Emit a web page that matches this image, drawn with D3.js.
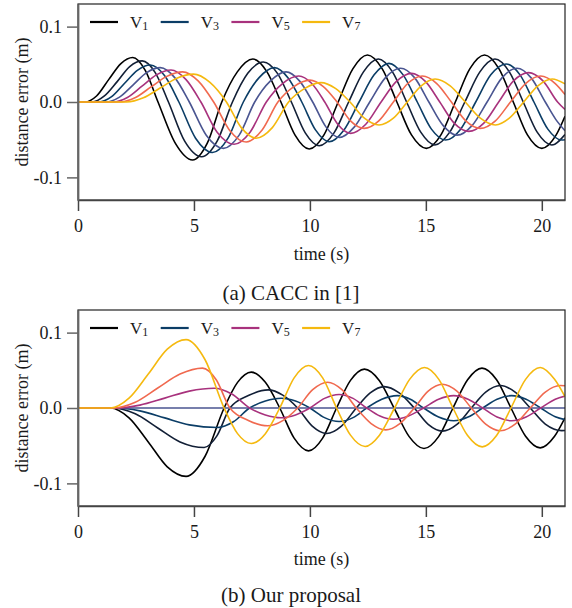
<!DOCTYPE html>
<html><head><meta charset="utf-8">
<script src="https://cdn.jsdelivr.net/npm/d3@7"></script>
<style>
body{margin:0;background:#fff}
svg{display:block}
text{font-family:"Liberation Serif","Times New Roman",serif;fill:#1a1a1a}
</style>
</head><body>
<svg id="c" width="572" height="608"></svg>
<script>
// ---------- data ----------
const seriesNames = ["V1","V2","V3","V4","V5","V6","V7"];
const legendSeries = ["V1","V3","V5","V7"];
const seriesColors = ["#000000","#121f36","#0b3d66","#4a5591","#a8327d","#f0694f","#f5b90f"];
const xTickValues = [0,5,10,15,20];
const yTickValues = [-0.1,0,0.1];
const yTickLabels = ["-0.1","0.0","0.1"];
const captions = ["(a) CACC in [1]","(b) Our proposal"];
const xLabel = "time (s)";
const yLabel = "distance error (m)";

// (a) CACC in [1] : [time, error]
const caccV1 = [[0,0],[0.3,0],[0.8,0.008],[1.33,0.03],[1.85,0.051],[2.36,0.059],[2.9,0.042],[3.45,0],[4.2,-0.055],[4.94,-0.077],[5.57,-0.055],[6.2,0],[6.87,0.04],[7.54,0.057],[8.15,0.04],[8.75,0],[9.36,-0.044],[9.97,-0.0624],[10.6,-0.044],[11.22,0],[11.85,0.044],[12.48,0.0624],[13.12,0.044],[13.75,0],[14.38,-0.0437],[15.02,-0.0615],[15.65,-0.0437],[16.27,0],[16.9,0.0443],[17.53,0.0624],[18.15,0.0443],[18.77,0],[19.38,-0.0437],[20.0,-0.0615],[20.62,-0.0437],[21,-0.019]];
const caccV2 = [[0,0],[0.6,0],[1.14,0.008],[1.69,0.027],[2.23,0.047],[2.77,0.0545],[3.33,0.039],[3.9,0],[4.6,-0.052],[5.33,-0.0726],[6.0,-0.052],[6.66,0],[7.32,0.038],[7.99,0.053],[8.6,0.038],[9.2,0],[9.8,-0.041],[10.4,-0.058],[11.04,-0.041],[11.67,0],[12.31,0.04],[12.95,0.057],[13.56,0.04],[14.17,0],[14.78,-0.04],[15.39,-0.057],[16.03,-0.04],[16.68,0],[17.33,0.04],[17.98,0.057],[18.6,0.04],[19.2,0],[19.8,-0.04],[20.43,-0.057],[21,-0.043]];
const caccV3 = [[0,0],[0.9,0],[1.45,0.007],[2.0,0.0245],[2.56,0.042],[3.12,0.049],[3.73,0.035],[4.35,0],[5.07,-0.048],[5.8,-0.067],[6.47,-0.048],[7.13,0],[7.8,0.032],[8.47,0.0456],[9.06,0.032],[9.65,0],[10.24,-0.037],[10.83,-0.0527],[11.47,-0.037],[12.12,0],[12.77,0.036],[13.41,0.0513],[14.02,0.036],[14.63,0],[15.24,-0.036],[15.85,-0.0505],[16.5,-0.036],[17.15,0],[17.8,0.036],[18.46,0.0505],[19.06,0.036],[19.66,0],[20.26,-0.036],[20.86,-0.0505],[21,-0.05]];
const caccV4 = [[0,0],[1.2,0],[1.79,0.0065],[2.38,0.0228],[2.96,0.039],[3.55,0.0456],[4.18,0.032],[4.8,0],[5.53,-0.044],[6.27,-0.0615],[6.95,-0.044],[7.62,0],[8.3,0.028],[8.97,0.04],[9.55,0.028],[10.12,0],[10.69,-0.033],[11.26,-0.047],[11.92,-0.033],[12.58,0],[13.25,0.032],[13.91,0.0447],[14.52,0.032],[15.13,0],[15.74,-0.031],[16.35,-0.044],[17.0,-0.031],[17.64,0],[18.28,0.032],[18.93,0.0447],[19.54,0.032],[20.15,0],[20.6,-0.023],[21,-0.038]];
const caccV5 = [[0,0],[1.5,0],[2.13,0.006],[2.76,0.021],[3.38,0.036],[4.01,0.0425],[4.65,0.03],[5.3,0],[6.0,-0.04],[6.73,-0.056],[7.42,-0.04],[8.12,0],[8.82,0.0245],[9.52,0.0345],[10.08,0.0245],[10.64,0],[11.2,-0.0295],[11.76,-0.0416],[12.41,-0.0295],[13.07,0],[13.72,0.027],[14.38,0.038],[14.99,0.027],[15.6,0],[16.22,-0.028],[16.85,-0.039],[17.5,-0.028],[18.14,0],[18.78,0.028],[19.43,0.039],[20.05,0.028],[20.68,0],[21,-0.01]];
const caccV6 = [[0,0],[1.8,0],[2.48,0.006],[3.15,0.02],[3.83,0.034],[4.51,0.04],[5.18,0.028],[5.85,0],[6.55,-0.038],[7.25,-0.053],[7.94,-0.037],[8.62,0],[9.31,0.0205],[10.0,0.029],[10.58,0.0205],[11.17,0],[11.75,-0.025],[12.34,-0.035],[12.97,-0.025],[13.6,0],[14.22,0.0245],[14.85,0.0345],[15.47,0.0245],[16.1,0],[16.72,-0.025],[17.35,-0.035],[18.0,-0.025],[18.65,0],[19.3,0.0245],[19.95,0.0345],[20.58,0.0245],[21,0.01]];
const caccV7 = [[0,0],[2.1,0],[2.82,0.0055],[3.54,0.0185],[4.26,0.0315],[4.98,0.037],[5.69,0.026],[6.4,0],[7.04,-0.034],[7.68,-0.048],[8.38,-0.034],[9.08,0],[9.78,0.018],[10.48,0.0257],[11.1,0.018],[11.73,0],[12.35,-0.0215],[12.98,-0.0305],[13.6,-0.0215],[14.2,0],[14.8,0.0215],[15.4,0.0305],[16.05,0.0215],[16.7,0],[17.35,-0.0215],[18.0,-0.0305],[18.6,-0.0215],[19.22,0],[19.83,0.0215],[20.45,0.0305],[21,0.024]];

// (b) Our proposal : [time, error]
const oursV1 = [[0,0],[1.4,0],[2.2,-0.013],[3.03,-0.045],[3.85,-0.078],[4.66,-0.0907],[5.48,-0.064],[6.3,0],[6.88,0.034],[7.47,0.0476],[8.08,0.034],[8.7,0],[9.32,-0.04],[9.94,-0.0569],[10.55,-0.04],[11.15,0],[11.75,0.0366],[12.35,0.0516],[12.99,0.0366],[13.63,0],[14.28,-0.038],[14.92,-0.0538],[15.55,-0.038],[16.17,0],[16.8,0.0375],[17.42,0.0529],[18.05,0.0375],[18.67,0],[19.3,-0.0375],[19.93,-0.0529],[20.55,-0.0375],[21,-0.013]];
const oursV2 = [[0,0],[1.5,0],[2.47,-0.0077],[3.44,-0.0265],[4.4,-0.045],[5.44,-0.0524],[5.99,-0.037],[6.55,0],[7.37,0.0168],[8.2,0.024],[8.83,0.017],[9.47,0],[10.1,-0.024],[10.72,-0.0338],[11.36,-0.024],[12.0,0],[12.6,0.02],[13.2,0.0284],[13.85,0.02],[14.5,0],[15.1,-0.0218],[15.71,-0.0307],[16.34,-0.0218],[16.96,0],[17.58,0.021],[18.21,0.0298],[18.85,0.021],[19.5,0],[20.15,-0.0213],[20.86,-0.03],[21,-0.0298]];
const oursV3 = [[0,0],[1.6,0],[2.67,-0.0038],[3.74,-0.0131],[4.8,-0.0224],[6.02,-0.0258],[6.7,-0.0183],[7.4,0],[8.08,0.0092],[8.76,0.0129],[9.38,0.0092],[10.0,0],[10.63,-0.0128],[11.26,-0.018],[11.86,-0.0128],[12.45,0],[13.1,0.0116],[13.77,0.0164],[14.33,0.0116],[14.9,0],[15.55,-0.012],[16.2,-0.0169],[16.82,-0.012],[17.45,0],[18.07,0.0116],[18.7,0.0164],[19.32,0.0116],[19.95,0],[20.58,-0.0116],[21,-0.0155]];
const oursV4 = [[0,0],[21,0]];
const oursV5 = [[0,0],[1.6,0],[2.67,0.0038],[3.74,0.0131],[4.8,0.0224],[5.87,0.0262],[6.63,0.0186],[7.4,0],[8.08,-0.0092],[8.76,-0.0129],[9.38,-0.0092],[10.0,0],[10.63,0.0128],[11.26,0.018],[11.86,0.0128],[12.45,0],[13.02,-0.0107],[13.6,-0.015],[14.25,-0.0107],[14.9,0],[15.55,0.0116],[16.2,0.0164],[16.82,0.0116],[17.45,0],[18.07,-0.012],[18.7,-0.0169],[19.32,-0.012],[19.95,0],[20.58,0.0116],[21,0.0158]];
const oursV6 = [[0,0],[1.5,0],[2.47,0.0077],[3.44,0.0265],[4.4,0.045],[5.37,0.0529],[5.96,0.0375],[6.55,0],[7.37,-0.0168],[8.18,-0.0236],[8.83,-0.0168],[9.47,0],[10.12,0.0243],[10.76,0.0342],[11.38,0.0243],[12.0,0],[12.64,-0.0206],[13.27,-0.029],[13.88,-0.0206],[14.5,0],[15.1,0.0224],[15.71,0.0316],[16.34,0.0224],[16.96,0],[17.58,-0.0214],[18.21,-0.0302],[18.85,-0.0214],[19.5,0],[20.15,0.0212],[20.79,0.0298],[21,0.0295]];
const oursV7 = [[0,0],[1.4,0],[2.2,0.013],[3.03,0.045],[3.85,0.078],[4.66,0.0907],[5.48,0.064],[6.3,0],[6.88,-0.034],[7.47,-0.0471],[8.08,-0.034],[8.7,0],[9.32,0.04],[9.94,0.0564],[10.55,0.04],[11.15,0],[11.75,-0.036],[12.38,-0.051],[13.0,-0.036],[13.65,0],[14.3,0.038],[14.94,0.0538],[15.56,0.038],[16.17,0],[16.8,-0.0366],[17.43,-0.0516],[18.05,-0.0366],[18.67,0],[19.3,0.038],[19.93,0.0538],[20.55,0.038],[21,0.015]];

const caccSeries = [caccV1,caccV2,caccV3,caccV4,caccV5,caccV6,caccV7];
const oursSeries = [oursV1,oursV2,oursV3,oursV4,oursV5,oursV6,oursV7];

// ---------- drawing ----------
const svg = d3.select("#c");
const L = 78, R = 565;
const panels = [
  {top:4, bottom:200, series:caccSeries, caption:captions[0], tickY:226, labelY:254, capY:293},
  {top:310, bottom:506, series:oursSeries, caption:captions[1], tickY:532, labelY:559, capY:595}
];

panels.forEach((p, pi) => {
  const x = d3.scaleLinear().domain([0,21]).range([L,R]);
  const y = d3.scaleLinear().domain([-0.13,0.13]).range([p.bottom,p.top]);
  const g = svg.append("g");
  const clipId = "clip"+pi;
  svg.append("clipPath").attr("id",clipId).append("rect")
    .attr("x",L).attr("y",p.top).attr("width",R-L).attr("height",p.bottom-p.top);

  const line = d3.line().x(d=>x(d[0])).y(d=>y(d[1])).curve(d3.curveMonotoneX);
  const lg = g.append("g").attr("clip-path",`url(#${clipId})`);
  p.series.forEach((s,i) => {
    lg.append("path").datum(s).attr("d",line)
      .attr("fill","none").attr("stroke",seriesColors[i]).attr("stroke-width",1.6)
      .attr("stroke-linejoin","round");
  });

  // frame
  g.append("rect").attr("x",L).attr("y",p.top).attr("width",R-L).attr("height",p.bottom-p.top)
    .attr("fill","none").attr("stroke","#222").attr("stroke-width",1.2);

  // axes
  const ax = g.append("g").attr("transform",`translate(0,${p.bottom})`)
    .call(d3.axisBottom(x).tickValues(xTickValues).tickFormat(d3.format("d")).tickSize(11).tickPadding(6).tickSizeOuter(0));
  ax.select(".domain").attr("stroke","#444").attr("stroke-width",1.5);
  ax.selectAll(".tick line").attr("stroke","#444").attr("stroke-width",1.5);
  ax.selectAll(".tick text").attr("font-size",18).attr("font-family","Liberation Serif").attr("fill","#1a1a1a")
    .attr("dy",null).attr("y",null).attr("transform",null);
  ax.selectAll(".tick text").attr("y", p.tickY - p.bottom).attr("dominant-baseline","central");

  const ay = g.append("g").attr("transform",`translate(${L},0)`)
    .call(d3.axisLeft(y).tickValues(yTickValues).tickFormat((d,i)=>yTickLabels[i]).tickSize(11).tickPadding(5).tickSizeOuter(0));
  ay.select(".domain").attr("stroke","#666").attr("stroke-width",1.8);
  ay.selectAll(".tick line").attr("stroke","#666").attr("stroke-width",1.5);
  ay.selectAll(".tick text").attr("font-size",18).attr("font-family","Liberation Serif").attr("fill","#1a1a1a");

  // axis labels
  g.append("text").attr("x",(L+R)/2).attr("y",p.labelY).attr("text-anchor","middle")
    .attr("dominant-baseline","central").attr("font-size",18).text(xLabel);
  const cy = y(0);
  g.append("text").attr("transform",`translate(22,${cy}) rotate(-90)`).attr("text-anchor","middle")
    .attr("dominant-baseline","central").attr("font-size",18).text(yLabel);

  // caption
  g.append("text").attr("x",291).attr("y",p.capY).attr("text-anchor","middle")
    .attr("dominant-baseline","central").attr("font-size",21).text(p.caption);

  // legend
  const legY = p.top + 18;
  legendSeries.forEach((name,k) => {
    const idx = seriesNames.indexOf(name);
    const lx = 90 + k*70.7;
    g.append("line").attr("x1",lx).attr("x2",lx+28).attr("y1",legY).attr("y2",legY)
      .attr("stroke",seriesColors[idx]).attr("stroke-width",2.2);
    const t = g.append("text").attr("x",lx+40).attr("y",legY).attr("dominant-baseline","central")
      .attr("font-size",17);
    t.append("tspan").text(name.slice(0,1));
    t.append("tspan").attr("font-size",12).attr("dy",4).text(name.slice(1));
  });
});
</script>
</body></html>
